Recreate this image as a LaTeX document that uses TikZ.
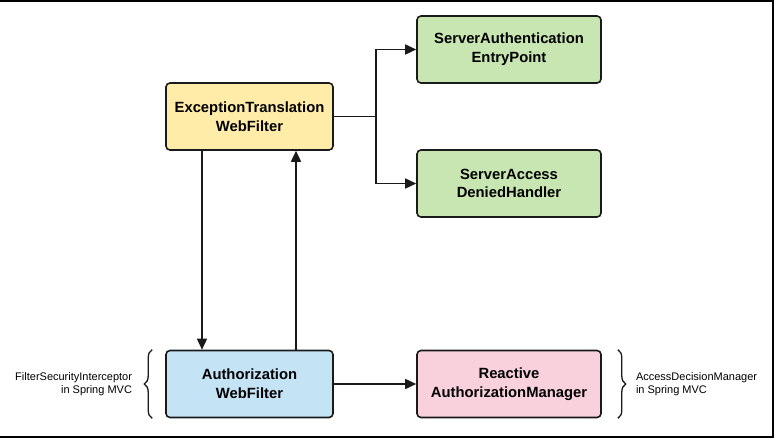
\documentclass[tikz,border=0pt]{standalone}
\usepackage{fontspec}
\setmainfont{Liberation Sans}
\usepackage{xcolor}
\usepackage{tikz}
\usetikzlibrary{arrows.meta}
\usetikzlibrary{decorations.pathreplacing, calc}

\definecolor{exyellow}{HTML}{FFECA9}
\definecolor{entrygreen}{HTML}{C8E6B1}
\definecolor{authblue}{HTML}{C4E4F5}
\definecolor{mgrpink}{HTML}{F8D1DC}
\definecolor{edge}{HTML}{1A1A1A}

\tikzset{
    box/.style={draw=edge, line width=1.6pt, rounded corners=4pt,
        minimum height=67pt, align=center,
        font=\fontsize{14.8}{18.7}\selectfont\bfseries},
    arrow/.style={draw=edge, line width=1.6pt, -{Triangle[length=11pt,width=10pt]}},
    bracket/.style={draw=edge, line width=1.3pt, decorate,
        decoration={brace, amplitude=8pt}},
    note/.style={font=\fontsize{11}{13.5}\selectfont, inner sep=0pt}
}

\begin{document}
\begin{tikzpicture}[x=1pt, y=-1pt]
                \useasboundingbox (0,0) rectangle (776,441);
                % outer frame
                \draw[line width=2.4pt] (0,1) -- (773,1) -- (773,437) -- (0,437);
                % filters
                \node[box, fill=exyellow, minimum width=167pt] (etf) at (249.5,116.5) {ExceptionTranslation\\WebFilter};
                \node[box, fill=authblue, minimum width=167pt] (awf) at (249.5,384) {Authorization\\WebFilter};
                % handlers
                \node[box, fill=entrygreen, minimum width=184pt] (sae) at (509,49.5) {ServerAuthentication\\EntryPoint};
                \node[box, fill=entrygreen, minimum width=184pt] (sadh) at (509,183.5) {ServerAccess\\DeniedHandler};
                \node[box, fill=mgrpink, minimum width=184pt] (ram) at (509,384) {Reactive\\AuthorizationManager};
                % connectors
                \draw[arrow] (etf.east) -- ++(42,0) |- (sae.west);
                \draw[arrow] (etf.east) -- ++(42,0) |- (sadh.west);
                \draw[arrow] ([xshift=-47.5pt]etf.south) -- ([xshift=-47.5pt]awf.north);
                \draw[arrow] ([xshift=46.5pt]awf.north) -- ([xshift=46.5pt]etf.south);
                \draw[arrow] (awf.east) -- (ram.west);
                % spring mvc notes
                \draw[bracket] ([xshift=-13pt]awf.south west) -- ([xshift=-13pt]awf.north west) coordinate[midway, xshift=-20pt] (lnote);
                \draw[bracket] ([xshift=16pt]ram.north east) -- ([xshift=16pt]ram.south east) coordinate[midway, xshift=18pt] (rnote);
                \node[note, anchor=east, align=right] (fsi) at (lnote) {FilterSecurityInterceptor\\in Spring MVC};
                \node[note, anchor=west, align=left] (adm) at (rnote) {AccessDecisionManager\\in Spring MVC};
            \end{tikzpicture}
\end{document}
